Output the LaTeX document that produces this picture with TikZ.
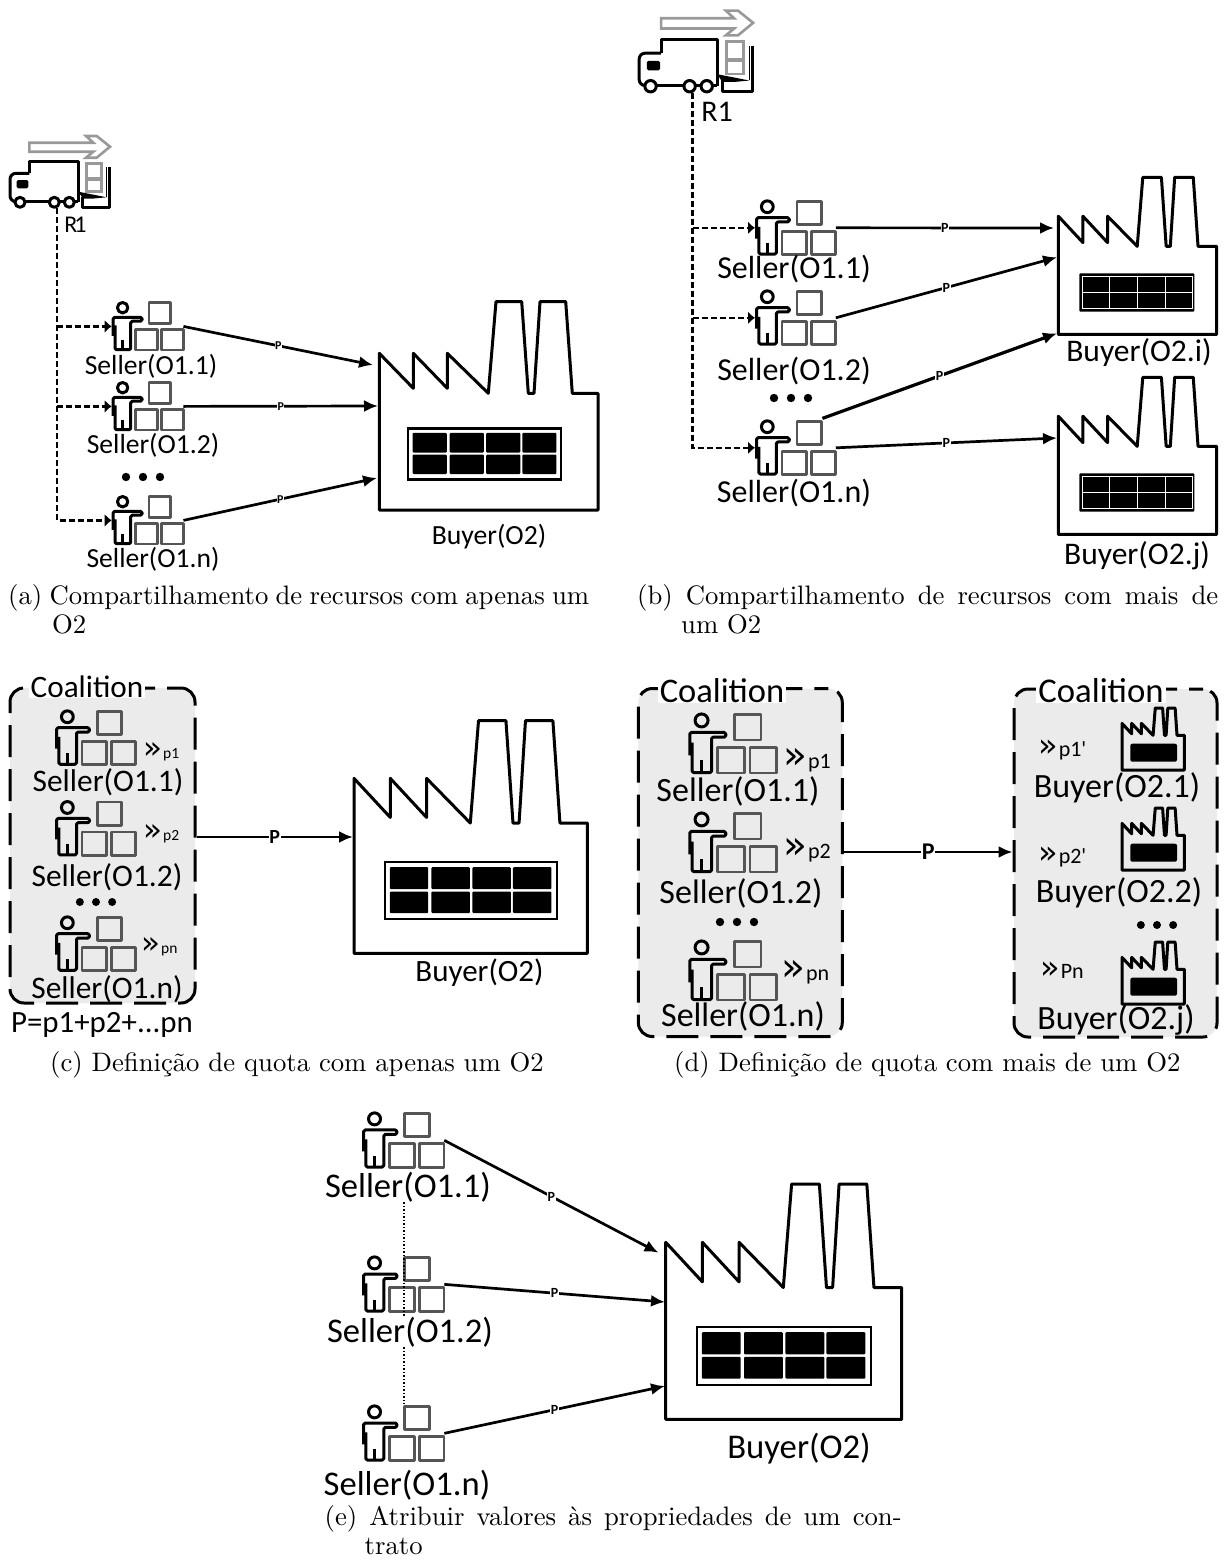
\documentclass[tikz,border=0pt]{standalone}
\usepackage{fontspec}
\usetikzlibrary{arrows.meta,positioning}
\newfontfamily\diagfont{Carlito}
\newfontfamily\chevfont{DejaVu Sans}
\newfontfamily\capfont{lmroman10-regular.otf}
\definecolor{IconGrey}{HTML}{555555}
\definecolor{TruckGrey}{HTML}{999999}
\definecolor{CoalitionFill}{HTML}{EBEBEB}
\newcommand{\factoryoutline}{(0,51.6) -- (34,86.6) -- (34,51.6) -- (68,86.6) -- (68,51.6) -- (109,91.6) -- (116.7,0) -- (142.4,0) -- (149,91.6) -- (154.7,91.6) -- (160.7,0) -- (186.4,0) -- (193,91.6) -- (218.7,91.6) -- (218.7,208.3) -- (0,208.3) -- cycle}
\newcommand{\quota}[3]{{\chevfont\fontsize{#1}{#1}\selectfont »}\kern1pt{\fontsize{#2}{#2}\selectfont #3}}
\newcommand{\subcap}[3]{\parbox[t]{#1}{\hangindent=#2\hangafter=1 #3}}
\tikzset{
  txt/.style={font=\diagfont\fontsize{#1}{#1}\selectfont, inner sep=0pt},
  quotatxt/.style={font=\diagfont, inner sep=0pt, anchor=base west},
  plbl/.style={font=\diagfont\bfseries\fontsize{#1}{#1}\selectfont, inner sep=0.5pt, fill=white},
  captxt/.style={font=\capfont\fontsize{26.7}{29}\selectfont, inner sep=0pt},
  capbox/.style={captxt, anchor=north west},
  iconline/.style={line width=3pt, line join=round},
  boxline/.style={IconGrey, line width=2.8pt, line join=round},
  dashline/.style={line width=2.6pt, dash pattern=on 6pt off 3pt, -{Latex[length=7pt,width=13pt]}},
  parrow/.style={line width=2.7pt, -{Latex[length=14pt,width=12pt]}},
  coalition/.style={fill=CoalitionFill, draw=black, line width=3pt, rounded corners=14pt, dash pattern=on 32pt off 12pt, dash phase=18pt, inner sep=0pt},
  cotitle/.style={txt=#1, fill=white, inner xsep=2pt},
  pics/seller/.style={code={
    \draw[iconline] (11.5,6.3) circle (5.5);
    \draw[iconline, rounded corners=1.5pt] (1.5,36) -- (1.5,16.5) -- (32,16.5) -- (32,20.5) -- (20,20.5) -- (20,50.5) -- (3.5,50.5) -- (3.5,25);
    \draw[iconline] (11.5,40) -- (11.5,50.5);
    \draw[boxline] (39.2,1.2) rectangle (61.8,22.8);
    \draw[boxline] (25.2,29.2) rectangle (47.8,50.8);
    \draw[boxline] (52.6,29.2) rectangle (75.2,50.8);
    \coordinate (-in) at (0,26);
    \coordinate (-out) at (75.5,26);
    \coordinate (-top) at (63,-1.5);
  }},
  pics/truck/.style={code={
    \draw[TruckGrey, line width=2.6pt, line join=miter] (20.3,7.7) -- (84.3,7.7) -- (77,1) -- (87.7,1) -- (101,11.7) -- (87.7,22.7) -- (77,22.7) -- (84.3,16.7) -- (20.3,16.7) -- cycle;
    \draw[iconline] (69.3,66.7) -- (69.3,26.7) -- (20.3,26.7) -- (20.3,38.3);
    \draw[iconline, rounded corners=6pt] (20.3,38.3) -- (1,38.3) -- (1,66.7) -- (6,66.7);
    \draw[iconline] (6,66.7) -- (69.3,66.7);
    \fill[rounded corners=1.5pt] (7.7,45) rectangle (19.3,53.3);
    \fill (69.3,56.7) -- (97.7,62.3) -- (85,63.5) -- (74,63.5) -- cycle;
    \draw[iconline] (100,31.7) -- (100,72.3) -- (73.7,72.3) -- (73.7,61.7);
    \draw[line width=1.5pt] (97.7,31.7) -- (97.7,62);
    \draw[TruckGrey, line width=2.6pt] (77.7,28.3) rectangle (92.7,43.3);
    \draw[TruckGrey, line width=2.6pt] (77.7,45) rectangle (92.7,56.7);
    \draw[iconline, fill=white] (11,67.3) circle (5);
    \draw[iconline, fill=white] (45.3,67.3) circle (5);
    \draw[iconline, fill=white] (60.3,67.3) circle (5);
    \coordinate (-wheel) at (48,73);
  }},
  pics/factory/.default=1,
  pics/factory/.style={code={
    \draw[iconline] \factoryoutline;
    \begin{scope}[shift={(28.8,126.6)},xscale=#1]
      \draw[line width=2.4pt] (0,0) rectangle (161.2,51);
      \foreach \cellx in {4.7,43.8,82.2,120.2} {
        \fill[rounded corners=1pt] (\cellx,4.5) rectangle ++(36,19.7);
        \fill[rounded corners=1pt] (\cellx,26.3) rectangle ++(36,19.4);
      }
    \end{scope}
  }},
  pics/factorygrid/.style={code={
    \draw[iconline] \factoryoutline;
    \fill[rounded corners=1pt] (29,127.3) rectangle (188,178.2);
    \draw[white, line width=.7pt] (33.7,131) rectangle (185.6,173.8);
    \draw[white, line width=.7pt] (33.7,152.5) -- (185.6,152.5);
    \foreach \gridx in {70.4,109,147.4} {
      \draw[white, line width=.7pt] (\gridx,131) -- (\gridx,173.8);
    }
  }},
  pics/smallfactory/.style={code={
    \draw[line width=3pt, line join=round, xscale=.285, yscale=.298] \factoryoutline;
    \fill[rounded corners=2pt] (8.3,35.7) rectangle (55,53.7);
  }},
  pics/threedots/.style={code={
    \fill (-17,0) circle (4.2);
    \fill (0,0) circle (4.2);
    \fill (17,0) circle (4.2);
  }},
}
\begin{document}
\begin{tikzpicture}[x=1pt,y=-1pt]
  \useasboundingbox (0,0) rectangle (1230,1568);

  \pic (truckA) at (9,135) {truck};
  \node[txt=24] (labelR1A) at (75.5,225) {R\kern-3pt 1};
  \pic[scale=.95] (sellerA1) at (111.7,301.7) {seller};
  \pic[scale=.95] (sellerA2) at (111.7,381.7) {seller};
  \pic[scale=.95] (sellerAn) at (111.7,495.7) {seller};
  \pic (buyerA) at (379.3,301.7) {factory=.95};
  \pic (dotsA) at (143,477) {threedots};
  \node[txt=27.6] (labelA1) at (151,366) {Seller(O1.1)};
  \node[txt=27.6] (labelA2) at (153,445) {Seller(O1.2)};
  \node[txt=27.6] (labelAn) at (153,559) {Seller(O1.n)};
  \node[txt=27.7] (labelBuyerA) at (489,537) {Buyer(O2)};
  \draw[dashline] (truckA-wheel |- sellerA1-in) -- (sellerA1-in);
  \draw[dashline] (truckA-wheel |- sellerA2-in) -- (sellerA2-in);
  \draw[dashline] (truckA-wheel) |- (sellerAn-in);
  \coordinate (buyerA-p1) at (373,365);
  \coordinate (buyerA-p2) at (378,406);
  \coordinate (buyerA-p3) at (377,478);
  \draw[parrow] (sellerA1-out) -- node[plbl=12] (pA1) {P} (buyerA-p1);
  \draw[parrow] (sellerA2-out) -- node[plbl=12] (pA2) {P} (buyerA-p2);
  \draw[parrow] (sellerAn-out) -- node[plbl=12] (pA3) {P} (buyerA-p3);
  \node[capbox] (capA) at (8,584) {\subcap{581pt}{44pt}{(a) Compartilhamento de recursos com apenas um O2}};

  \pic[scale=1.14] (truckB) at (638,9.5) {truck};
  \node[txt=30] (labelR1B) at (717,112) {R1};
  \pic[scale=1.07] (sellerB1) at (755,200) {seller};
  \pic[scale=1.07] (sellerB2) at (755,290) {seller};
  \pic[scale=1.07] (sellerBn) at (755,420) {seller};
  \pic[xscale=.724,yscale=.754] (buyerBi) at (1058.3,177.3) {factorygrid};
  \pic[xscale=.724,yscale=.754] (buyerBj) at (1058.3,377.3) {factorygrid};
  \pic (dotsB) at (791,398) {threedots};
  \node[txt=32] (labelB1) at (794,269) {Seller(O1.1)};
  \node[txt=32] (labelB2) at (794,371) {Seller(O1.2)};
  \node[txt=32] (labelBn) at (794,493) {Seller(O1.n)};
  \node[txt=31.5] (labelBuyerBi) at (1139,353) {Buyer(O2.i)};
  \node[txt=31.5] (labelBuyerBj) at (1137,556) {Buyer(O2.j)};
  \draw[dashline] (truckB-wheel |- sellerB1-in) -- (sellerB1-in);
  \draw[dashline] (truckB-wheel |- sellerB2-in) -- (sellerB2-in);
  \draw[dashline] (truckB-wheel) |- (sellerBn-in);
  \coordinate (buyerBi-p1) at (1054,228);
  \coordinate (buyerBi-p2) at (1057,257.3);
  \coordinate (buyerBi-p3) at (1057,333.3);
  \coordinate (buyerBj-p1) at (1057,438);
  \draw[parrow] (sellerB1-out) -- node[plbl=14] (pB1) {P} (buyerBi-p1);
  \draw[parrow] (sellerB2-out) -- node[plbl=14] (pB2) {P} (buyerBi-p2);
  \draw[parrow, line width=3.2pt] (sellerBn-top) -- node[plbl=14] (pB3) {P} (buyerBi-p3);
  \draw[parrow] (sellerBn-out) -- node[plbl=14] (pB4) {P} (buyerBj-p1);
  \node[capbox] (capB) at (637,584) {\subcap{581pt}{44pt}{(b) Compartilhamento de recursos com mais de um O2}};

  \node[coalition, minimum width=185pt, minimum height=315pt] (boxC) at (102.5,845.5) {};
  \node[cotitle=31.2] (titleC) at (87,687) {Coalition};
  \pic[scale=1.075] (sellerC1) at (55,710) {seller};
  \pic[scale=1.075] (sellerC2) at (55,800.7) {seller};
  \pic[scale=1.075] (sellerCn) at (55,916) {seller};
  \pic[scale=.95] (dotsC) at (96,902) {threedots};
  \node[txt=31.4] (labelC1) at (108,782) {Seller(O1.1)};
  \node[txt=31.4] (labelC2) at (107,877) {Seller(O1.2)};
  \node[txt=31.4] (labelCn) at (107,989) {Seller(O1.n)};
  \node[quotatxt] (quotaC1) at (143,758) {\quota{31}{15.5}{p1}};
  \node[quotatxt] (quotaC2) at (143,840) {\quota{31}{15.5}{p2}};
  \node[quotatxt] (quotaCn) at (141,953) {\quota{31}{15.5}{pn}};
  \node[txt=30.9] (sumC) at (102,1025) {P=p1+p2+...pn};
  \pic[xscale=1.067,yscale=1.117] (buyerC) at (354,720.7) {factory};
  \node[txt=31] (labelBuyerC) at (479.5,973) {Buyer(O2)};
  \coordinate (buyerC-p1) at (353,837);
  \draw[parrow] (boxC.east |- buyerC-p1) -- node[plbl=20] (pC) {P} (buyerC-p1);
  \node[captxt] (capC) at (297,1065) {(c) Definição de quota com apenas um O2};

  \node[coalition, minimum width=204pt, minimum height=348pt] (boxD1) at (740.3,862.5) {};
  \node[cotitle=34.5] (titleD1) at (722,691) {Coalition};
  \pic[scale=1.18] (sellerD1) at (688,713) {seller};
  \pic[scale=1.18] (sellerD2) at (688,812) {seller};
  \pic[scale=1.18] (sellerDn) at (688,940) {seller};
  \pic (dotsD1) at (737,922) {threedots};
  \node[txt=34] (labelD1) at (738,791) {Seller(O1.1)};
  \node[txt=34] (labelD2) at (741,893) {Seller(O1.2)};
  \node[txt=34] (labelDn) at (743,1016) {Seller(O1.n)};
  \node[quotatxt] (quotaD1) at (783,768) {\quota{39}{22}{p1}};
  \node[quotatxt] (quotaD2) at (783,858) {\quota{39}{22}{p2}};
  \node[quotatxt] (quotaDn) at (781,980) {\quota{39}{22}{pn}};

  \node[coalition, minimum width=203pt, minimum height=348pt] (boxD2) at (1115.5,863) {};
  \node[cotitle=34.7] (titleD2) at (1101,691) {Coalition};
  \pic (buyerD1) at (1122,708) {smallfactory};
  \pic (buyerD2) at (1122,808) {smallfactory};
  \pic (buyerDj) at (1122,942) {smallfactory};
  \pic[scale=.95] (dotsD2) at (1157,925) {threedots};
  \node[txt=34] (labelBuyerD1) at (1117,788) {Buyer(O2.1)};
  \node[txt=34] (labelBuyerD2) at (1119,893) {Buyer(O2.2)};
  \node[txt=34] (labelBuyerDj) at (1116,1020) {Buyer(O2.j)};
  \node[quotatxt] (quotaBuyerD1) at (1038,756) {\quota{32}{22}{p1'}};
  \node[quotatxt] (quotaBuyerD2) at (1038,863) {\quota{32}{22}{p2'}};
  \node[quotatxt] (quotaBuyerDj) at (1040,978) {\quota{32}{22}{Pn}};
  \draw[parrow] (boxD1.east |- 0,852) -- node[plbl=24] (pD) {P} (boxD2.west |- 0,852);
  \node[captxt] (capD) at (927.3,1065) {(d) Definição de quota com mais de um O2};

  \pic[scale=1.09] (sellerE1) at (362,1112) {seller};
  \pic[scale=1.09] (sellerE2) at (362,1256) {seller};
  \pic[scale=1.09] (sellerEn) at (362,1405) {seller};
  \pic[xscale=1.079,yscale=1.13] (buyerE) at (665.7,1184) {factory};
  \node[txt=34.6] (labelE1) at (408,1187) {Seller(O1.1)};
  \node[txt=34.6] (labelE2) at (410,1332) {Seller(O1.2)};
  \node[txt=34.6] (labelEn) at (407,1485) {Seller(O1.n)};
  \node[txt=34.7] (labelBuyerE) at (799,1449) {Buyer(O2)};
  \draw[line width=1.5pt, dotted] (labelE1.south -| 404,0) -- (labelE2.north -| 404,0);
  \draw[line width=1.5pt, dotted] (labelE2.south -| 404,0) -- (sellerEn-top -| 404,0);
  \coordinate (buyerE-p1) at (658.5,1252.7);
  \coordinate (buyerE-p2) at (665,1302);
  \coordinate (buyerE-p3) at (665,1386);
  \draw[parrow] (sellerE1-out) -- node[plbl=14] (pE1) {P} (buyerE-p1);
  \draw[parrow] (sellerE2-out) -- node[plbl=14] (pE2) {P} (buyerE-p2);
  \draw[parrow] (sellerEn-out) -- node[plbl=14] (pE3) {P} (buyerE-p3);
  \node[capbox] (capE) at (324.5,1505) {\subcap{577pt}{40pt}{(e) Atribuir valores às propriedades de um con-\linebreak trato}};
\end{tikzpicture}
\end{document}
